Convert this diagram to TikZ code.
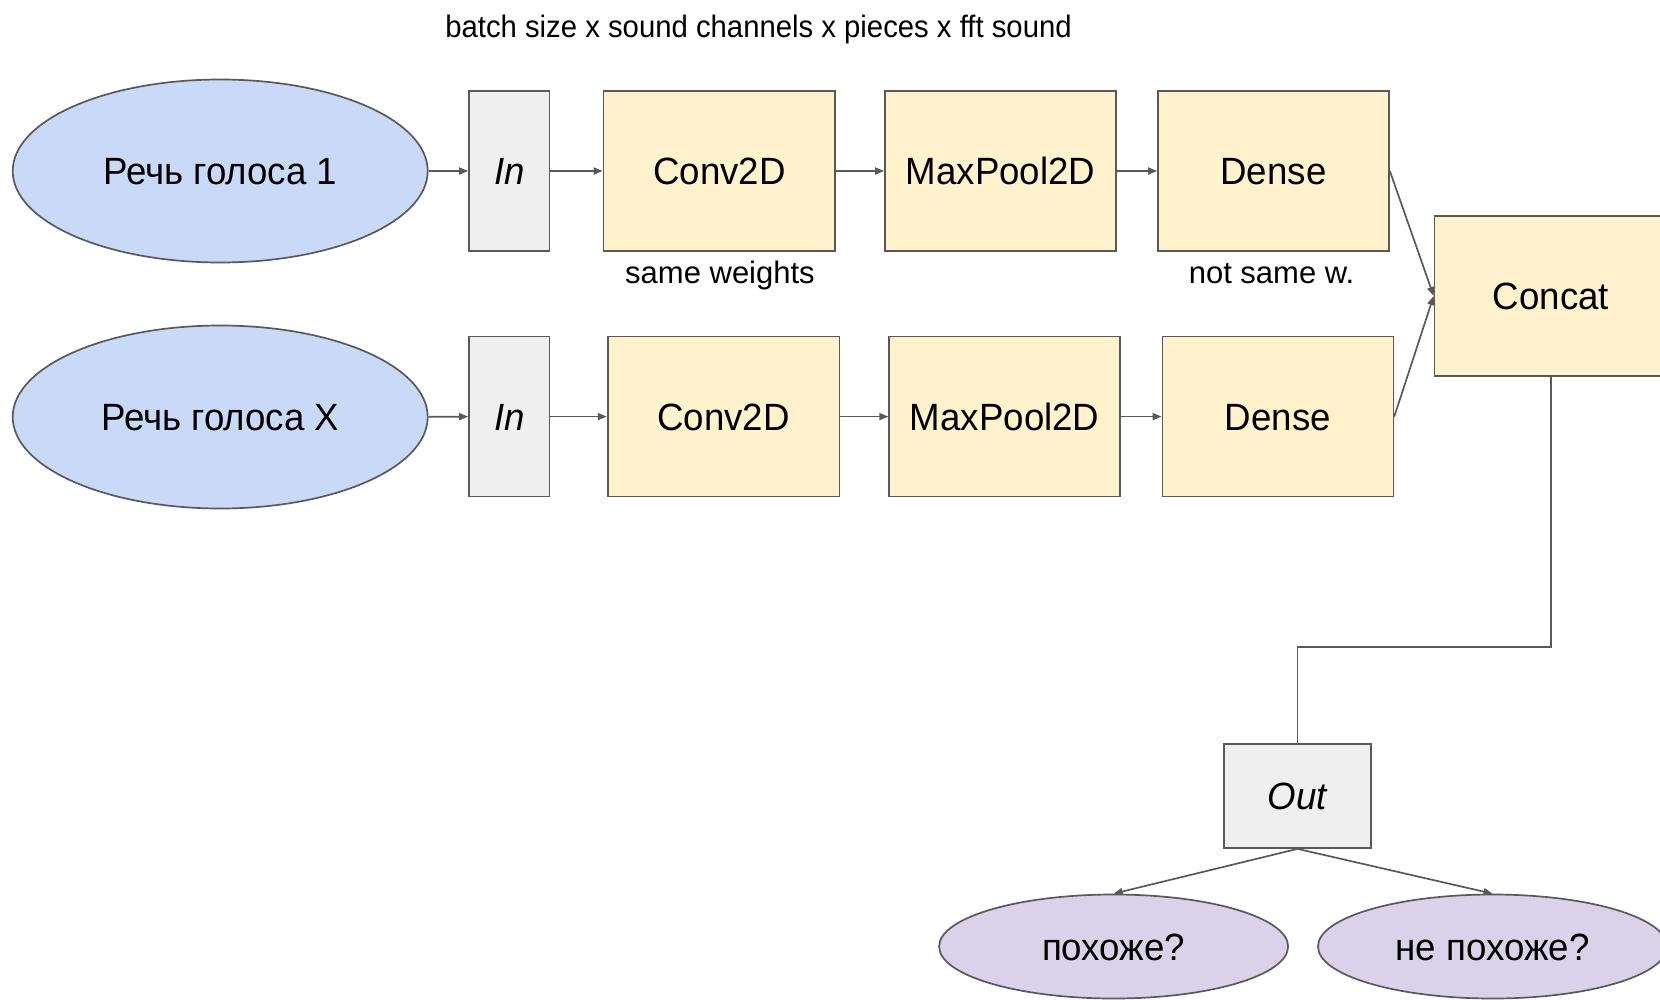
\documentclass[tikz,border=0pt]{standalone}
\usepackage{fontspec}
\setmainfont{Liberation Sans}
\newfontfamily\labelfont[FakeStretch=0.965]{Liberation Sans}
\newfontfamily\captionfont[FakeStretch=0.945]{Liberation Sans}
\usetikzlibrary{shapes.geometric,arrows.meta}
\definecolor{edge}{HTML}{595959}
\definecolor{voicefill}{HTML}{C9DAF8}
\definecolor{layerfill}{HTML}{FFF2CC}
\definecolor{iofill}{HTML}{EFEFEF}
\definecolor{answerfill}{HTML}{D9D2E9}
\tikzset{
  big/.style={font=\labelfont\fontsize{38}{46}\selectfont, text height=27.3pt, text depth=0pt},
  small/.style={font=\fontsize{31}{37}\selectfont},
  voice/.style={ellipse, draw=edge, line width=1.7pt, fill=voicefill, inner sep=0pt,
    minimum width=415pt, minimum height=183pt, big},
  layer/.style={rectangle, draw=edge, line width=1.7pt, fill=layerfill, inner sep=0pt,
    minimum width=231pt, minimum height=160pt, big},
  iobox/.style={rectangle, draw=edge, line width=1.7pt, fill=iofill, inner sep=0pt,
    minimum height=160pt, minimum width=80.5pt, big},
  answer/.style={ellipse, draw=edge, line width=1.7pt, fill=answerfill, inner sep=0pt,
    minimum width=349pt, minimum height=104pt, big},
  flow/.style={draw=edge, line width=1.7pt, -{Triangle[length=9pt,width=7pt]}},
  wire/.style={draw=edge, line width=1.7pt},
  note/.style={inner sep=0pt, anchor=base, small},
}
\begin{document}
\begin{tikzpicture}[x=1pt, y=-1pt]
\useasboundingbox (0,0) rectangle (1660,999);
\clip (0,0) rectangle (1660,999);

% shape caption
\node[inner sep=0pt, anchor=base, font=\captionfont\fontsize{31}{37}\selectfont] (dims) at (758.5,37.5)
  {batch size x sound channels x pieces x fft sound};

% first branch
\node[voice] (v1) at (220.2,171) {Речь голоса 1};
\node[iobox] (in1) at (509.3,171) {\itshape In};
\node[layer, minimum width=231.8pt] (conv1) at (719.4,171) {Conv2D};
\node[layer] (pool1) at (1000.5,171) {MaxPool2D};
\node[layer] (dense1) at (1273.5,171) {Dense};

% second branch
\node[voice] (v2) at (220.2,417) {Речь голоса X};
\node[iobox] (in2) at (509.3,416.6) {\itshape In};
\node[layer, minimum width=231.8pt] (conv2) at (723.6,416.6) {Conv2D};
\node[layer] (pool2) at (1004.7,416.6) {MaxPool2D};
\node[layer] (dense2) at (1277.9,416.6) {Dense};

% notes under the first branch
\node[note] (shared) at (720,283) {same weights};
\node[note] (unshared) at (1271.5,283) {not same w.};

% merge and output
\node[layer, minimum width=233pt] (concat) at (1551,296) {Concat};
\node[iobox, minimum width=147pt, minimum height=104pt] (out) at (1297.5,796) {\itshape Out};
\node[answer] (yes) at (1113.6,946.5) {похоже?};
\node[answer] (no) at (1492.5,946.5) {не похоже?};
\coordinate (bend) at (1297.5,647);

% connectors
\draw[flow] (v1) -- (in1);
\draw[flow] (in1) -- (conv1);
\draw[flow] (conv1) -- (pool1);
\draw[flow] (pool1) -- (dense1);
\draw[flow] (v2) -- (in2);
\draw[flow] (in2) -- (conv2);
\draw[flow] (conv2) -- (pool2);
\draw[flow] (pool2) -- (dense2);
\draw[flow] (dense1.east) -- (concat.west);
\draw[flow] (dense2.east) -- (concat.west);
\draw[wire] (concat.south) |- (bend) -- (out.north);
\draw[flow] (out.south) -- (yes.north);
\draw[flow] (out.south) -- (no.north);
\end{tikzpicture}
\end{document}
